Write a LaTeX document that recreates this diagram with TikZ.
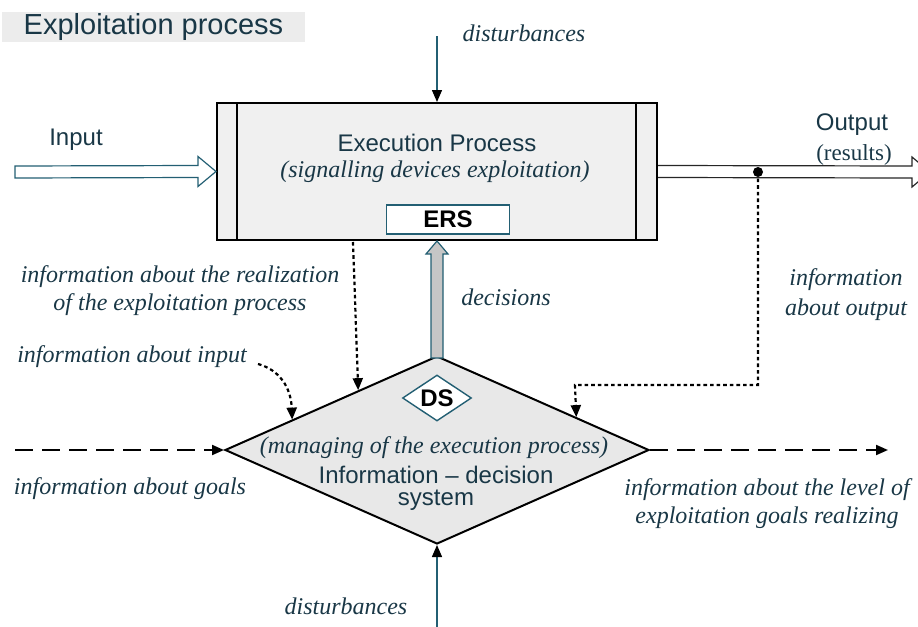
\documentclass[tikz,border=0pt]{standalone}
\usepackage{fontspec}
\setmainfont{Liberation Serif}
\setsansfont{Liberation Sans}
\usetikzlibrary{arrows.meta,calc,shapes.geometric,positioning}
\definecolor{ink}{RGB}{25,55,70}
\definecolor{edge}{RGB}{35,95,115}

\begin{document}
\begin{tikzpicture}[x=0.5pt,y=-0.5pt,
	sanslbl/.style={font=\sffamily\fontsize{12}{14}\selectfont, text=ink, inner sep=1pt},
	itlbl/.style={font=\itshape\fontsize{12}{14}\selectfont, text=ink, align=center, inner sep=1pt},
	thinarrow/.style={draw=edge, line width=0.7pt, -{Triangle[length=6pt,width=5pt,color=black]}},
	dotarrow/.style={draw=black, line width=1.1pt, dash pattern=on 1.8pt off 1.5pt, -{Triangle[length=6pt,width=5pt]}},
	dasharrow/.style={draw=black, line width=1pt, dash pattern=on 9pt off 4.5pt, -{Triangle[length=6pt,width=5pt]}},
	hollow/.style={line width=0.6pt, fill=white}]

				\useasboundingbox (0,0) rectangle (918,627);

				% TITLE
				\node[fill=gray!15, minimum width=151.5pt, minimum height=15pt, inner sep=0, font=\sffamily\fontsize{14.5}{16}\selectfont, text=ink] (title) at (153.5,27) {Exploitation process};

				% EXECUTION PROCESS

				\node[draw=black, line width=1pt, fill=gray!12, minimum width=220pt, minimum height=68.5pt, inner sep=0] (proc) at (437,171.5) {};
				\draw[line width=1pt] ($(proc.north west)+(21,0)$) -- ($(proc.south west)+(21,0)$);
				\draw[line width=1pt] ($(proc.north east)+(-22,0)$) -- ($(proc.south east)+(-22,0)$);
				\node[sanslbl] (exectitle) at (437,143) {Execution Process};
				\node[itlbl] (execsub) at (435,172) {(signalling devices exploitation)};
				\node[draw=edge, line width=0.7pt, fill=white, minimum width=61.5pt, minimum height=14.5pt, inner sep=0, font=\sffamily\bfseries\fontsize{12}{14}\selectfont, text=black] (ers) at (448,219.5) {ERS};

				\node[itlbl] (disttop) at (524,33) {disturbances};
				\coordinate (dtop) at (437,36);
				\draw[thinarrow] (dtop) to (proc.north);

				% INPUT / OUTPUT

				\node[sanslbl] (input) at (76,140) {Input};
				\coordinate (inA) at (15,172);
				\draw[hollow, draw=edge] ($(inA)+(0,-6)$) -- ($(proc.west)+(-18,-6)$) -- ($(proc.west)+(-18,-15)$) -- (proc.west) -- ($(proc.west)+(-18,15)$) -- ($(proc.west)+(-18,6)$) -- ($(inA)+(0,6)$) -- cycle;

				\node[sanslbl] (output) at (852,125) {Output};
				\node[font=\fontsize{11.5}{13}\selectfont, text=ink, inner sep=1pt] (results) at (854,155) {(results)};
				\coordinate (outA) at (912,172);
				\draw[hollow, draw=black!85] ($(proc.east)+(0,-6)$) -- ($(outA)+(0,-6)$) -- ($(outA)+(0,-15)$) -- ($(outA)+(18,0)$) -- ($(outA)+(0,15)$) -- ($(outA)+(0,6)$) -- ($(proc.east)+(0,6)$);
				\node[circle, fill=black, inner sep=0, minimum size=5pt] (tap) at (758,172) {};

				% INFORMATION - DECISION SYSTEM

				\node[diamond, draw=black, line width=1pt, fill=gray!18, minimum width=212pt, minimum height=94pt, inner sep=0] (ids) at (437,450) {};
				\node[diamond, draw=edge, line width=0.7pt, fill=white, aspect=1.5, minimum width=34.5pt, minimum height=23pt, inner sep=0, font=\sffamily\bfseries\fontsize{12}{14}\selectfont, text=black] (ds) at (437,398) {DS};
				\node[itlbl] (managing) at (434,448) {(managing of the execution process)};
				\node[sanslbl, align=center, font=\sffamily\fontsize{12}{11}\selectfont] (idstitle) at (436,488) {Information -- decision\\system};

				\draw[draw=edge, line width=0.6pt, fill=gray!45] ($(ids.north)+(-6,3)$) -- ($(proc.south)+(-6,13)$) -- ($(proc.south)+(-11,13)$) -- (proc.south) -- ($(proc.south)+(11,13)$) -- ($(proc.south)+(6,13)$) -- ($(ids.north)+(6,3)$) -- cycle;
				\node[itlbl] (decisions) at (506,297) {decisions};

				% FEEDBACK

				\node[itlbl] (inforeal) at (180,291) {information about the realization\\of the exploitation process};
				\coordinate (realA) at (353,242);
				\draw[dotarrow] (realA) -- ($(ids.west)!0.63!(ids.north)$);

				\node[itlbl] (infoin) at (132,357) {information about input};
				\coordinate (inpA) at (258,364);
				\draw[dotarrow] (inpA) .. controls (280,370) and (291,388) .. ($(ids.west)!0.32!(ids.north)$);

				\node[itlbl, font=\itshape\fontsize{12}{15}\selectfont] (infoout) at (846,295) {information\\about output};
				\coordinate (outbend) at (575,385);
				\draw[dotarrow] (tap.center) |- (outbend) -- ($(ids.north)!0.654!(ids.east)$);

				% GOALS

				\coordinate (goalA) at (15,450);
				\coordinate (goalB) at (888,450);
				\draw[dasharrow] (goalA) -- (ids.west);
				\draw[dasharrow] (ids.east) -- (goalB);
				\node[itlbl] (goalsin) at (130,489) {information about goals};
				\node[itlbl] (goalsout) at (767,504) {information about the level of\\exploitation goals realizing};

				\node[itlbl] (distbot) at (346,606) {disturbances};
				\coordinate (dbot) at (437,627);
				\draw[thinarrow] (dbot) to (ids.south);
			\end{tikzpicture}
\end{document}
